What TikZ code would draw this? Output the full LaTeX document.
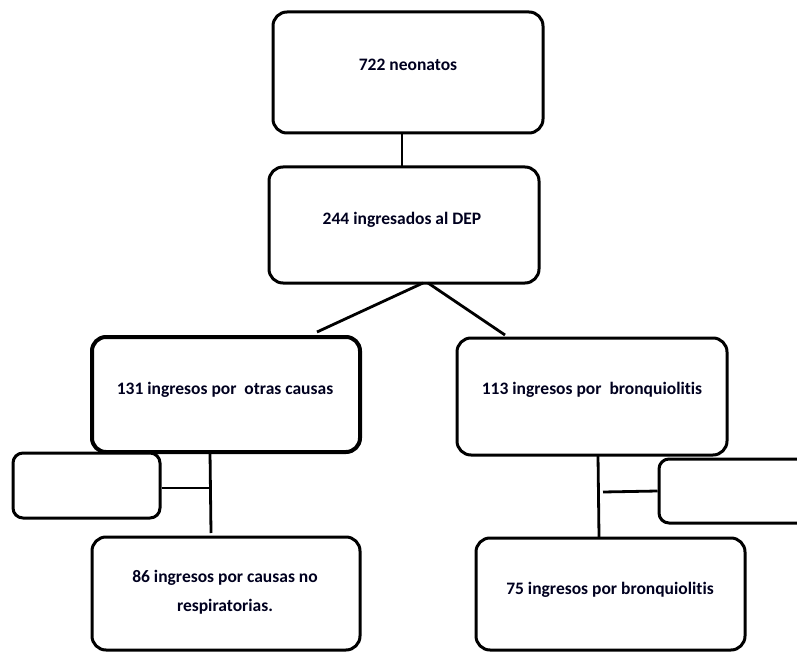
\documentclass[tikz,border=0pt]{standalone}
\usepackage{fontspec}
\setmainfont[Ligatures=NoCommon]{Carlito}
\usetikzlibrary{calc}
\begin{document}
\begin{tikzpicture}[x=1pt,y=-1pt,
  boxstyle/.style={draw=black, line width=3pt, rounded corners=14pt, fill=white, inner sep=0pt},
  txt/.style={font=\fontsize{17.5}{21}\selectfont\bfseries, align=center, inner sep=0pt, text=black!88!blue},
  conn/.style={draw=black, line width=2.8pt}]
\useasboundingbox (0,0) rectangle (797,652);
\clip (0,0) rectangle (797,652);
\fill[white] (0,0) rectangle (797,652);
% boxes
\node[boxstyle, minimum width=270pt, minimum height=121pt] (b1) at (408,72.5) {};
\node[boxstyle, minimum width=270pt, minimum height=116pt] (b2) at (404,225) {};
\node[boxstyle, line width=4pt, minimum width=268pt, minimum height=115pt] (b3) at (226,394.5) {};
\node[boxstyle, minimum width=270pt, minimum height=117pt] (b4) at (592,396.5) {};
\node[boxstyle, rounded corners=10pt, minimum width=147pt, minimum height=65pt] (bl) at (86.5,485.5) {};
\node[boxstyle, rounded corners=10pt, minimum width=160pt, minimum height=64pt] (br) at (739,491) {};
\node[boxstyle, minimum width=268pt, minimum height=113pt] (b5) at (226,593.5) {};
\node[boxstyle, minimum width=269pt, minimum height=112pt] (b6) at (610.5,594) {};
% texts
\node[txt] (t1) at (408,65) {722 neonatos};
\node[txt] (t2) at (402,220) {244 ingresados al DEP};
\node[txt] (t3) at (225,390) {131 ingresos por\ \ otras causas};
\node[txt] (t4) at (592,390) {113 ingresos por\ \ bronquiolitis};
\node[txt, align=center] (t5) at (225,592) {86 ingresos por causas no\\[8pt]respiratorias.};
\node[txt] (t6) at (610,590) {75 ingresos por bronquiolitis};
% connector points
\coordinate (c1a) at (402,133);
\coordinate (c1b) at (402,167);
\coordinate (dla) at (423,283);
\coordinate (dlb) at (317,332);
\coordinate (dra) at (428,283);
\coordinate (drb) at (505,335);
\coordinate (vla) at (210,452);
\coordinate (vlb) at (211,533);
\coordinate (hl) at (210,488);
\coordinate (vra) at (598,455);
\coordinate (vrb) at (599,537);
\coordinate (hr) at (603,492);
% connectors
\draw[conn] (c1a) -- (c1b);
\draw[conn] (dla) -- (dlb);
\draw[conn] (dra) -- (drb);
\draw[conn] (vla) -- (vlb);
\draw[conn] (bl.east |- hl) -- (hl);
\draw[conn] (vra) -- (vrb);
\draw[conn] (hr) -- (br.west);
\end{tikzpicture}
\end{document}
